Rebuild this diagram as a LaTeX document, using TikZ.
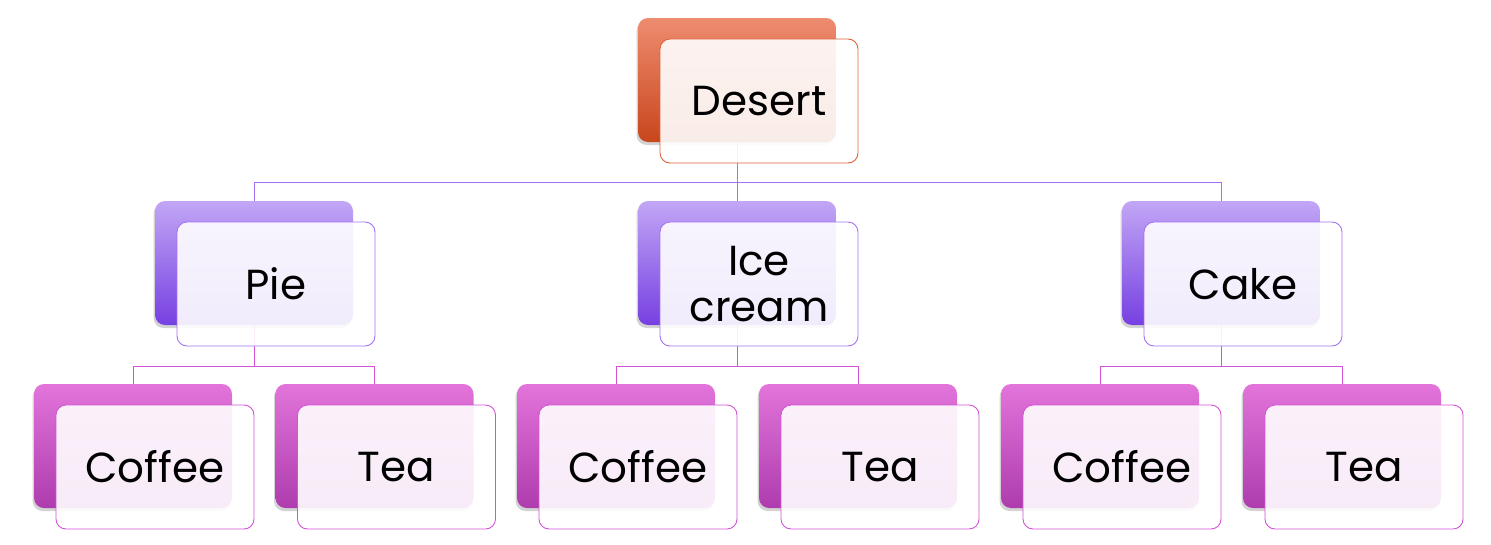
\documentclass[tikz,border=0pt]{standalone}
\usepackage{fontspec}
\setmainfont{Poppins}
\usetikzlibrary{shadows}
\pgfdeclarelayer{background}
\pgfsetlayers{background,main}
\definecolor{orTop}{HTML}{EE8C70}
\definecolor{orBot}{HTML}{C8461C}
\definecolor{orLine}{HTML}{E0603A}
\definecolor{puTop}{HTML}{C2A6F5}
\definecolor{puBot}{HTML}{7640E2}
\definecolor{puLine}{HTML}{A472F2}
\definecolor{mgTop}{HTML}{E274DA}
\definecolor{mgBot}{HTML}{AE3CAE}
\definecolor{mgLine}{HTML}{D452D6}
\tikzset{
  backbox/.style={rectangle, rounded corners=10pt, minimum width=198pt, minimum height=124pt,
    inner sep=0pt, draw=none, drop shadow={shadow xshift=-1.5pt, shadow yshift=-3pt, opacity=0.35}},
  frontbox/.style={rectangle, rounded corners=10pt, minimum width=198pt, minimum height=124pt,
    inner sep=0pt, fill=white, fill opacity=0.9, text opacity=1, line width=0.9pt,
    font=\fontsize{42}{46}\selectfont, align=center},
  orback/.style={backbox, top color=orTop, bottom color=orBot},
  puback/.style={backbox, top color=puTop, bottom color=puBot},
  mgback/.style={backbox, top color=mgTop, bottom color=mgBot},
  orfront/.style={frontbox, draw=orLine},
  pufront/.style={frontbox, draw=puLine},
  mgfront/.style={frontbox, draw=mgLine},
  puconn/.style={draw=puLine, line width=0.9pt},
  mgconn/.style={draw=mgLine, line width=0.9pt},
}
\begin{document}
\begin{tikzpicture}[x=1pt, y=-1pt]
\useasboundingbox (0,0) rectangle (1491,544);
% positions of the back boxes
\path
  (737,80) coordinate (pd)
  (254,263) coordinate (pp)
  (737,263) coordinate (pi)
  (1221,263) coordinate (pc)
  (133,446) coordinate (p1) (374.5,446) coordinate (p2)
  (616,446) coordinate (p3) (858,446) coordinate (p4)
  (1100,446) coordinate (p5) (1342,446) coordinate (p6);
% boxes
\node[orback] (dB) at (pd) {};
\node[orfront] (d) at ([shift={(22,21)}]pd) {Desert};
\node[puback] (pieB) at (pp) {};
\node[pufront] (pie) at ([shift={(22,21)}]pp) {Pie};
\node[puback] (iceB) at (pi) {};
\node[pufront] (ice) at ([shift={(22,21)}]pi) {Ice\\cream};
\node[puback] (cakeB) at (pc) {};
\node[pufront] (cake) at ([shift={(22,21)}]pc) {Cake};
\node[mgback] (c1B) at (p1) {};
\node[mgfront] (c1) at ([shift={(22,21)}]p1) {Coffee};
\node[mgback] (t1B) at (p2) {};
\node[mgfront] (t1) at ([shift={(22,21)}]p2) {Tea};
\node[mgback] (c2B) at (p3) {};
\node[mgfront] (c2) at ([shift={(22,21)}]p3) {Coffee};
\node[mgback] (t2B) at (p4) {};
\node[mgfront] (t2) at ([shift={(22,21)}]p4) {Tea};
\node[mgback] (c3B) at (p5) {};
\node[mgfront] (c3) at ([shift={(22,21)}]p5) {Coffee};
\node[mgback] (t3B) at (p6) {};
\node[mgfront] (t3) at ([shift={(22,21)}]p6) {Tea};
% junctions
\coordinate (j0) at (737,182);
\coordinate (j1) at (254,366);
\coordinate (j2) at (737,366);
\coordinate (j3) at (1221,366);
% connectors behind the boxes
\begin{pgfonlayer}{background}
\draw[puconn] (dB.south) -- (j0);
\draw[puconn] (j0) -| (pieB.north);
\draw[puconn] (j0) -| (cakeB.north);
\draw[puconn] (j0) -- (iceB.north);
\draw[mgconn] (pieB.south) -- (j1);
\draw[mgconn] (j1) -| (c1B.north);
\draw[mgconn] (j1) -| (t1B.north);
\draw[mgconn] (iceB.south) -- (j2);
\draw[mgconn] (j2) -| (c2B.north);
\draw[mgconn] (j2) -| (t2B.north);
\draw[mgconn] (cakeB.south) -- (j3);
\draw[mgconn] (j3) -| (c3B.north);
\draw[mgconn] (j3) -| (t3B.north);
\end{pgfonlayer}
\end{tikzpicture}
\end{document}
